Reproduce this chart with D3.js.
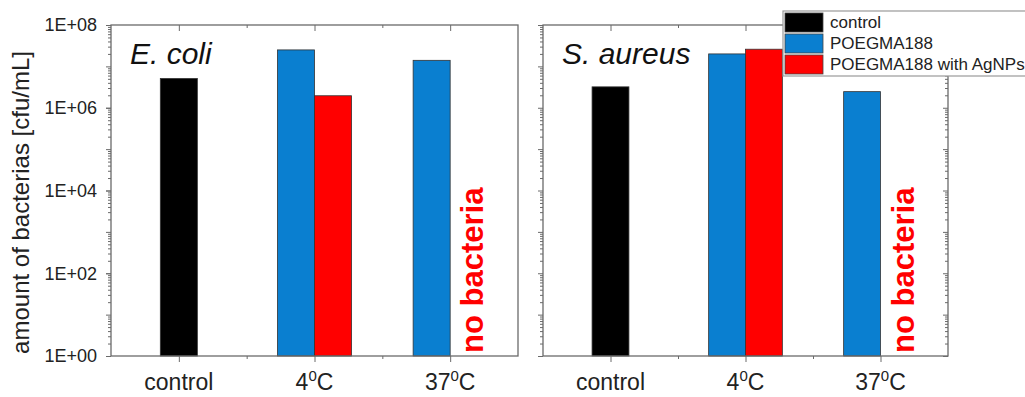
<!DOCTYPE html>
<html>
<head>
<meta charset="utf-8">
<script src="https://cdn.jsdelivr.net/npm/d3@7"></script>
<style>
  body { margin: 0; background: #fff; }
  svg { display: block; font-family: "Liberation Sans", Arial, sans-serif; }
</style>
</head>
<body>
<div id="chart"></div>
<script>
// categories on the x axis (label, superscript, suffix)
const categories = ["control", "4C", "37C"];
const categoryLabels = [["control", "", ""], ["4", "0", "C"], ["37", "0", "C"]];
const seriesNames = ["control", "POEGMA188", "POEGMA188 with AgNPs"];
const seriesColors = ["#000000", "#0a7fd0", "#ff0000"];

// E. coli, cfu/mL (null = no bar)
const ecoliControl = [5.1e6, null, null];
const ecoliPoegma = [null, 2.5e7, 1.4e7];
const ecoliAgNP = [null, 1.95e6, null];

// S. aureus, cfu/mL
const aureusControl = [3.2e6, null, null];
const aureusPoegma = [null, 2.0e7, 2.45e6];
const aureusAgNP = [null, 2.6e7, null];

const yMajorTicks = [1, 1e1, 1e2, 1e3, 1e4, 1e5, 1e6, 1e7, 1e8];
const yLabelTicks = [1, 1e2, 1e4, 1e6, 1e8];

const svgWidth = 1025, svgHeight = 397;
const svg = d3.select('#chart').append('svg')
  .attr('width', svgWidth)
  .attr('height', svgHeight);

const plotTop = 25, height = 331;
const panels = [
  { left: 111, width: 407, title: "E. coli", control: ecoliControl, poegma: ecoliPoegma, agnp: ecoliAgNP, labels: true, rightTicks: false },
  { left: 543, width: 405, title: "S. aureus", control: aureusControl, poegma: aureusPoegma, agnp: aureusAgNP, labels: false, rightTicks: true }
];

const y = d3.scaleLog().domain([1, 1e8]).range([height, 0]);
const minorTicks = [];
yMajorTicks.slice(0, -1).forEach(d => { for (let m = 2; m <= 9; m++) minorTicks.push(d * m); });
const fmt = d => "1E+" + String(Math.round(Math.log10(d))).padStart(2, "0");

const axisColor = "#6a6a6a";
const textColor = "#222";

panels.forEach(p => {
  const g = svg.append("g").attr("transform", `translate(${p.left},${plotTop})`);
  const x0 = d3.scaleBand().domain(categories).range([0, p.width]).padding(0);
  const bw = x0.bandwidth();
  const barW = bw * 0.273;
  const x1 = d3.scaleBand().domain(["POEGMA188", "POEGMA188 with AgNPs"]).range([bw / 2 - barW, bw / 2 + barW]);

  // bars
  const bars = [];
  categories.forEach((c, i) => {
    if (p.control[i] != null) bars.push({ x: x0(c) + bw / 2 - barW / 2, v: p.control[i], color: seriesColors[0] });
    if (p.poegma[i] != null) bars.push({ x: x0(c) + x1("POEGMA188"), v: p.poegma[i], color: seriesColors[1] });
    if (p.agnp[i] != null) bars.push({ x: x0(c) + x1("POEGMA188 with AgNPs"), v: p.agnp[i], color: seriesColors[2] });
  });
  g.selectAll(".bar").data(bars).enter().append("rect")
    .attr("class", "bar")
    .attr("x", d => d.x)
    .attr("y", d => y(d.v))
    .attr("width", barW)
    .attr("height", d => height - y(d.v))
    .attr("fill", d => d.color)
    .attr("stroke", "#333")
    .attr("stroke-width", 0.8);

  // frame
  g.append("rect").attr("width", p.width).attr("height", height)
    .attr("fill", "none").attr("stroke", axisColor).attr("stroke-width", 1.3);

  // left axis
  const left = g.append("g").attr("color", axisColor);
  left.append("g").call(d3.axisLeft(y).tickValues(minorTicks).tickSize(3).tickFormat(""));
  left.append("g").call(d3.axisLeft(y).tickValues(yMajorTicks).tickSize(5).tickFormat(""));
  if (p.labels) {
    left.append("g").call(d3.axisLeft(y).tickValues(yLabelTicks).tickSize(5).tickPadding(9).tickFormat(fmt))
      .call(a => a.selectAll("text").attr("fill", textColor).attr("font-size", 18).attr("font-family", "Liberation Sans, Arial, sans-serif"));
  }
  left.selectAll(".domain").remove();
  if (p.rightTicks) {
    const right = g.append("g").attr("color", axisColor).attr("transform", `translate(${p.width},0)`);
    right.append("g").call(d3.axisRight(y).tickValues(minorTicks).tickSize(-3).tickFormat(""));
    right.append("g").call(d3.axisRight(y).tickValues(yMajorTicks).tickSize(-5).tickFormat(""));
    right.selectAll(".domain").remove();
  }

  // bottom ticks: centres long, boundaries short
  const centers = categories.map(c => x0(c) + bw / 2);
  const bounds = categories.slice(1).map(c => x0(c));
  const xc = d3.scaleLinear().domain([0, p.width]).range([0, p.width]);
  const bottom = g.append("g").attr("transform", `translate(0,${height})`).attr("color", axisColor);
  bottom.append("g").call(d3.axisBottom(xc).tickValues(centers).tickSize(6).tickFormat(""));
  bottom.append("g").call(d3.axisBottom(xc).tickValues(bounds).tickSize(3).tickFormat(""));
  bottom.selectAll(".domain").remove();
  const topAx = g.append("g").attr("color", axisColor);
  topAx.append("g").call(d3.axisTop(xc).tickValues(centers).tickSize(-6).tickFormat(""));
  topAx.append("g").call(d3.axisTop(xc).tickValues(bounds).tickSize(-3).tickFormat(""));
  topAx.selectAll(".domain").remove();

  // category labels
  const lab = g.append("g").selectAll("text").data(categoryLabels).enter().append("text")
    .attr("x", (d, i) => centers[i])
    .attr("y", height + 34)
    .attr("text-anchor", "middle")
    .attr("font-size", 23)
    .attr("fill", textColor);
  lab.append("tspan").text(d => d[0]);
  lab.append("tspan").attr("font-size", 15).attr("dy", -9).text(d => d[1]);
  lab.append("tspan").attr("dy", 9).text(d => d[2]);

  // title
  g.append("text").attr("x", 19).attr("y", 39)
    .attr("font-size", 30).attr("font-style", "italic").attr("fill", "#111")
    .text(p.title);

  // no bacteria at 37 C with AgNPs
  g.append("text")
    .attr("transform", `translate(${x0("37C") + bw / 2 + 33},${height - 3}) rotate(-90)`)
    .attr("font-size", 31).attr("font-weight", "bold").attr("fill", "#ff0000")
    .text("no bacteria");
});

// y axis title
svg.append("text")
  .attr("transform", `translate(29,${plotTop + height / 2 + 12}) rotate(-90)`)
  .attr("text-anchor", "middle")
  .attr("font-size", 24)
  .attr("fill", textColor)
  .text("amount of bacterias [cfu/mL]");

// legend
const legend = svg.append("g").attr("transform", "translate(783,11)");
legend.append("rect").attr("width", 250).attr("height", 65)
  .attr("fill", "#fff").attr("stroke", "#999").attr("stroke-width", 1.2);
const items = legend.selectAll(".item").data(seriesNames).enter().append("g")
  .attr("class", "item")
  .attr("transform", (d, i) => `translate(2,${2 + i * 21})`);
items.append("rect").attr("width", 38).attr("height", 19)
  .attr("fill", (d, i) => seriesColors[i]).attr("stroke", "#444").attr("stroke-width", 0.8);
items.append("text").attr("x", 45).attr("y", 15)
  .attr("font-size", 17).attr("fill", textColor)
  .text(d => d);
</script>
</body>
</html>
